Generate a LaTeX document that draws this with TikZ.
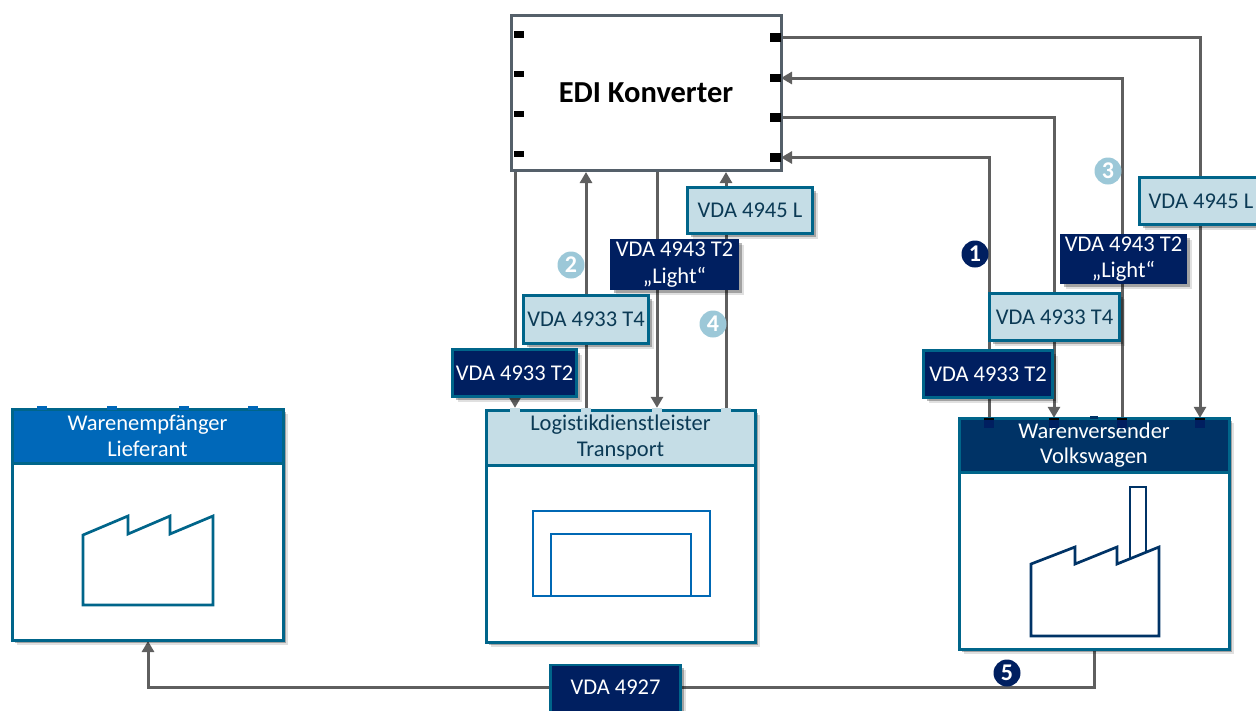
\documentclass[tikz,border=0pt]{standalone}
\usepackage{fontspec}
\setmainfont[Ligatures=NoCommon]{Carlito}
\usetikzlibrary{arrows.meta,shadows,backgrounds,calc}
\definecolor{teal}{HTML}{00658A}
\definecolor{lightbox}{HTML}{C5DDE6}
\definecolor{navy}{HTML}{001F60}
\definecolor{vwblue}{HTML}{003366}
\definecolor{lfblue}{HTML}{0068B9}
\definecolor{conn}{HTML}{5F5F5F}
\definecolor{edge}{HTML}{55606A}
\definecolor{numlight}{HTML}{9CC8D8}
\definecolor{txtdark}{HTML}{0B3A55}
\tikzset{
  x=1pt,y=-1pt,
  base/.style={anchor=north west,inner sep=0pt,outer sep=0pt,align=center,font=\fontsize{22.5}{25.5}\selectfont},
  shad/.style={drop shadow={shadow xshift=5pt,shadow yshift=-5pt,opacity=.12,fill=black},drop shadow={shadow xshift=3pt,shadow yshift=-3pt,opacity=.28,fill=black}},
  lightlabel/.style={base,shad,draw=teal,line width=3pt,fill=lightbox,text=txtdark},
  darklabel/.style={base,shad,draw=teal,line width=2.5pt,fill=navy,text=white},
  darklabelb/.style={base,shad,draw=navy,line width=1pt,fill=navy,text=white},
  body/.style={base,shad,draw=teal,line width=3pt,fill=white},
  header/.style={base,draw=teal,line width=3pt},
  portbox/.style={fill=black,inner sep=0pt,minimum width=11pt,minimum height=8.5pt},
  portleft/.style={fill=black,inner sep=0pt,minimum width=10pt,minimum height=6.5pt},
  tabn/.style={inner sep=0pt,minimum width=10pt,minimum height=4pt},
  wire/.style={draw=conn,line width=3pt},
  arrowed/.style={wire,-{Triangle[length=11pt,width=12pt]}},
  numdot/.style={circle,inner sep=0pt,minimum size=27pt,text=white,font=\fontsize{24}{24}\bfseries\selectfont},
  icon/.style={line width=2.7pt,line join=miter}
}
\begin{document}
\begin{tikzpicture}
\useasboundingbox (0,0) rectangle (1256,710);
% EDI
\node[base,draw=edge,line width=3pt,fill=white,minimum width=270pt,minimum height=155pt,font=\fontsize{30.5}{34}\bfseries\selectfont] (edi) at (511,15) {EDI Konverter};
\foreach \n/\yy in {1/34.5,2/74,3/114,4/154}{\node[portleft] (pl\n) at (518.5,\yy) {};}
\foreach \n/\yy in {1/37.5,2/78,3/117.5,4/157.5}{\node[portbox] (pr\n) at (775.5,\yy) {};}
\coordinate (ea) at (515,170);
\coordinate (eb) at (586,172);
\coordinate (ec) at (657,170);
\coordinate (ed) at (726,172);
% main boxes
\node[body,minimum width=271pt,minimum height=231pt] (lf) at (12,409) {};
\node[header,fill=lfblue,text=white,minimum width=271pt,minimum height=54pt] (lfh) at (12,409) {Warenempfänger\\Lieferant};
\node[body,minimum width=269pt,minimum height=232pt] (tr) at (486,410) {};
\node[header,fill=lightbox,text=txtdark,minimum width=269pt,minimum height=55pt] (trh) at (486,410) {Logistikdienstleister\\Transport};
\node[body,minimum width=270pt,minimum height=231pt] (vw) at (959,418) {};
\node[header,fill=vwblue,text=white,minimum width=270pt,minimum height=54pt] (vwh) at (959,418) {Warenversender\\Volkswagen};
% tabs
\foreach \n/\xx in {a/42,b/112,c/184,d/253}{\node[tabn,fill=lfblue] (lt\n) at (\xx,408) {};}
\foreach \n/\xx in {a/515,b/586,c/657,d/726}{\node[tabn,fill=lightbox] (tt\n) at (\xx,410) {};}
\foreach \n/\xx in {a/989,b/1054,c/1122,d/1200}{\node[tabn,fill=navy,minimum height=10pt] (vt\n) at (\xx,423) {};}
\node[tabn,fill=vwblue,minimum height=3pt,minimum width=8pt] (vte) at (1094,417) {};
\foreach \n in {a,b,c,d}{\fill[black] (vt\n.north west) rectangle ($(vt\n.north east)+(0,2)$);}
\coordinate (vwout) at (1094,650);
\coordinate (lfin) at (148,641);
\coordinate (busmid) at (615,687);
% labels
\node[lightlabel,minimum width=125pt,minimum height=46pt] (a1) at (687.5,187.5) {VDA 4945 L};
\node[darklabelb,minimum width=128pt,minimum height=50pt,font=\fontsize{22.5}{26.5}\selectfont] (a2) at (610.5,239.5) {VDA 4943 T2\\„Light“};
\node[lightlabel,minimum width=125pt,minimum height=48pt] (a3) at (523.5,295.5) {VDA 4933 T4};
\node[darklabel,minimum width=124pt,minimum height=47pt] (a4) at (452.5,349.5) {VDA 4933 T2};
\node[lightlabel,minimum width=130pt,minimum height=47pt] (b1) at (1139.5,177.5) {\hspace*{-7pt}VDA 4945 L};
\node[darklabelb,minimum width=126pt,minimum height=49pt,font=\fontsize{22.5}{26.5}\selectfont] (b2) at (1060.5,234.5) {VDA 4943 T2\\„Light“};
\node[lightlabel,minimum width=130pt,minimum height=47pt] (b3) at (989.5,293.5) {VDA 4933 T4};
\node[darklabel,minimum width=129pt,minimum height=47pt] (b4) at (923.5,350.5) {VDA 4933 T2};
\node[darklabel,minimum width=130pt,minimum height=60pt,text depth=16pt] (c1) at (550.5,665) {VDA 4927};
% numbers
\node[numdot,fill=navy] (n1) at (975,254) {1};
\node[numdot,fill=numlight] (n2) at (571,265) {2};
\node[numdot,fill=numlight] (n3) at (1108,171) {3};
\node[numdot,fill=numlight] (n4) at (713,324) {4};
\node[numdot,fill=navy] (n5) at (1007,673) {5};
% connectors
\begin{pgfonlayer}{background}
\draw[arrowed] (pr1.east) -| (vtd.north);
\draw[arrowed] (vtc.north) |- (edi.east |- pr2);
\draw[arrowed] (pr3.east) -| (vtb.north);
\draw[arrowed] (vta.north) |- (edi.east |- pr4);
\draw[arrowed] (ea) -- (tta.north);
\draw[arrowed] (ttb.north) -- (eb);
\draw[arrowed] (ec) -- (ttc.north);
\draw[arrowed] (ttd.north) -- (ed);
\draw[arrowed] (vwout) |- (busmid) -| (lfin);
\end{pgfonlayer}
% icons
\draw[icon,draw=teal] (83,605) -- (83,535) -- (128,516) -- (128,534) -- (170,516) -- (170,534) -- (213,516) -- (213,605) -- cycle;
\draw[icon,draw=lfblue!90!teal] (533,511) rectangle (710,596);
\draw[icon,draw=lfblue!90!teal] (551,596) -- (551,534) -- (691,534) -- (691,596);
\draw[icon,draw=vwblue] (1031,636) -- (1031,564) -- (1075,547) -- (1075,564) -- (1117,547) -- (1117,564) -- (1159,547) -- (1159,636) -- cycle;
\draw[icon,draw=vwblue] (1130,558) -- (1130,487) -- (1146,487) -- (1146,552);
\end{tikzpicture}
\end{document}
